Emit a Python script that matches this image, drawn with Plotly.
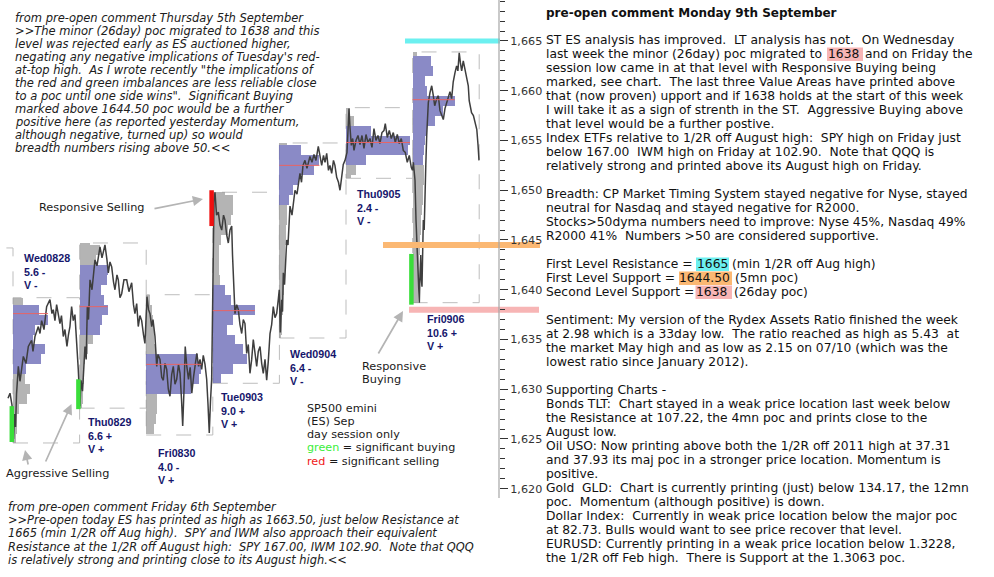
import plotly.graph_objects as go

W, H = 994, 577

# ---------------- data ----------------
days = ["Wed0828", "Thu0829", "Fri0830", "Tue0903", "Wed0904", "Thu0905", "Fri0906"]
range_tags = ["5.6 -", "6.6 +", "4.0 -", "9.0 +", "6.4 -", "2.4 -", "10.6 +"]
volume_tags = ["V -", "V +", "V +", "V +", "V -", "V -", "V +"]
day_high = [1639.2, 1644.7, 1639.5, 1649.8, 1654.75, 1658.3, 1663.9]
day_low = [1624.6, 1628.1, 1625.4, 1630.6, 1635.15, 1651.2, 1638.7]
poc_price = [1637.6, 1638.3, 1632.5, 1637.9, 1652.5, 1654.8, 1659.1]
va_high = [1638, 1642, 1633, 1640, 1654, 1656, 1663]
va_low = [1632, 1636, 1630, 1631, 1649, 1653, 1653]
profile_top = [1639, 1645, 1639, 1650, 1655, 1658, 1664]

vol_wed0828 = [10, 26, 35, 22, 20, 32, 28, 13, 12, 17, 14, 6, 4, 4, 3]
vol_thu0829 = [10, 20, 16, 28, 27, 21, 24, 28, 22, 20, 13, 8, 5, 4, 4, 3, 3, 2]
vol_fri0830 = [4, 6, 7, 8, 8, 10, 52, 55, 53, 45, 11, 11, 10, 8]
vol_tue0903 = [12, 20, 20, 18, 15, 8, 6, 6, 6, 7, 12, 18, 42, 20, 14, 22, 30, 34, 20, 8]
vol_wed0904 = [8, 22, 40, 35, 20, 14, 10, 8, 8, 7, 7, 6, 6, 6, 5, 5, 4, 4, 3, 3, 2]
vol_thu0905 = [4, 8, 25, 64, 62, 20, 10, 5]
vol_fri0906 = [4, 18, 20, 12, 14, 42, 30, 22, 14, 12, 11, 10, 11, 11, 10, 10, 9, 8, 8,
               7, 7, 6, 6, 6, 5, 5]

prev_day_high = 1644.2
prev_tail = [(0.925, 1629.1), (0.955, 1629.6), (0.985, 1628.4)]

px_wed0828 = [(0.008, 1625.0), (0.023, 1627.5), (0.038, 1626.2), (0.053, 1629.5), (0.08, 1632.3),
              (0.105, 1630.8), (0.155, 1633.3), (0.195, 1632.6), (0.23, 1634.3), (0.28, 1634.9),
              (0.30, 1633.8), (0.33, 1635.3), (0.38, 1636.3), (0.405, 1635.6), (0.43, 1636.9),
              (0.465, 1636.0), (0.505, 1638.3), (0.555, 1639.0), (0.585, 1637.6), (0.605, 1638.0),
              (0.63, 1636.9), (0.655, 1638.5), (0.705, 1636.6), (0.728, 1637.4), (0.755, 1635.3),
              (0.78, 1636.0), (0.81, 1634.3), (0.833, 1635.5), (0.855, 1636.3), (0.88, 1638.3),
              (0.905, 1636.9), (0.93, 1637.5), (0.955, 1634.9), (0.98, 1632.0)]
px_thu0829 = [(0.006, 1628.3), (0.021, 1630.9), (0.044, 1629.8), (0.066, 1633.0), (0.081, 1634.3),
              (0.099, 1633.0), (0.116, 1638.3), (0.134, 1637.0), (0.156, 1641.0), (0.186, 1640.0),
              (0.231, 1643.0), (0.261, 1642.4), (0.306, 1644.3), (0.336, 1643.2), (0.381, 1644.5),
              (0.411, 1643.0), (0.431, 1641.7), (0.456, 1642.8), (0.482, 1642.3), (0.509, 1640.8),
              (0.531, 1640.0), (0.561, 1641.5), (0.581, 1641.0), (0.606, 1639.2), (0.632, 1639.6),
              (0.666, 1641.0), (0.707, 1641.0), (0.741, 1639.8), (0.782, 1640.7), (0.809, 1638.5),
              (0.831, 1637.6), (0.857, 1638.6), (0.881, 1636.3), (0.906, 1637.4), (0.932, 1636.9),
              (0.959, 1635.5), (0.981, 1634.6), (0.996, 1636.8)]
px_fri0830 = [(0.012, 1639.3), (0.035, 1638.0), (0.057, 1637.6), (0.083, 1636.3), (0.102, 1637.0),
              (0.132, 1635.3), (0.158, 1632.3), (0.177, 1633.5), (0.207, 1633.0), (0.233, 1631.2),
              (0.257, 1630.9), (0.282, 1632.6), (0.308, 1632.0), (0.332, 1630.0), (0.357, 1629.3),
              (0.383, 1631.5), (0.407, 1632.3), (0.432, 1630.5), (0.458, 1631.0), (0.485, 1632.5),
              (0.508, 1631.6), (0.53, 1629.0), (0.548, 1626.3), (0.568, 1630.0), (0.586, 1634.3),
              (0.608, 1632.4), (0.635, 1631.0), (0.66, 1632.2), (0.685, 1629.6), (0.712, 1631.3),
              (0.735, 1632.6), (0.76, 1633.6), (0.787, 1632.3), (0.808, 1633.0), (0.833, 1632.0),
              (0.857, 1633.4), (0.883, 1632.5), (0.908, 1631.0), (0.928, 1628.5), (0.947, 1625.6),
              (0.965, 1628.8), (0.983, 1631.0)]
px_tue0903 = [(0.018, 1649.0), (0.033, 1649.8), (0.056, 1647.5), (0.083, 1647.8), (0.108, 1646.5),
              (0.134, 1646.0), (0.161, 1647.5), (0.183, 1647.0), (0.209, 1645.5), (0.233, 1644.7),
              (0.258, 1646.0), (0.284, 1646.4), (0.296, 1643.5), (0.309, 1641.0), (0.323, 1639.0),
              (0.333, 1637.6), (0.359, 1638.5), (0.383, 1638.0), (0.408, 1636.5), (0.434, 1635.6),
              (0.458, 1637.0), (0.483, 1636.6), (0.509, 1633.6), (0.533, 1634.5), (0.558, 1631.6),
              (0.584, 1633.0), (0.608, 1635.0), (0.634, 1633.5), (0.659, 1632.3), (0.683, 1633.8),
              (0.709, 1634.3), (0.734, 1632.6), (0.758, 1631.6), (0.784, 1633.0), (0.809, 1630.9),
              (0.833, 1632.8), (0.859, 1635.6), (0.884, 1636.5), (0.908, 1638.3), (0.934, 1637.2),
              (0.959, 1637.6), (0.983, 1639.0), (0.998, 1640.0)]
px_wed0904 = [(0.014, 1635.7), (0.024, 1637.5), (0.035, 1639.0), (0.047, 1637.8), (0.059, 1641.7),
              (0.077, 1640.5), (0.092, 1643.0), (0.11, 1645.0), (0.129, 1644.5), (0.159, 1648.4),
              (0.189, 1647.5), (0.212, 1649.2), (0.234, 1650.0), (0.264, 1649.6), (0.287, 1651.0),
              (0.309, 1651.7), (0.332, 1650.8), (0.354, 1652.5), (0.384, 1653.0), (0.414, 1652.2),
              (0.459, 1653.4), (0.489, 1652.8), (0.519, 1653.6), (0.549, 1653.0), (0.584, 1654.4),
              (0.609, 1653.4), (0.635, 1652.5), (0.662, 1653.5), (0.685, 1652.8), (0.71, 1653.7),
              (0.737, 1652.0), (0.759, 1652.5), (0.785, 1651.7), (0.812, 1653.0), (0.834, 1652.5),
              (0.86, 1651.3), (0.887, 1650.8), (0.91, 1650.0), (0.935, 1651.5), (0.959, 1652.6),
              (0.985, 1653.0), (0.998, 1653.5)]
px_thu0905 = [(0.015, 1653.8), (0.03, 1656.0), (0.045, 1658.2), (0.06, 1656.3), (0.08, 1654.5),
              (0.10, 1655.2), (0.12, 1654.0), (0.15, 1655.0), (0.18, 1655.5), (0.21, 1654.6),
              (0.24, 1655.5), (0.27, 1654.2), (0.30, 1655.6), (0.33, 1654.8), (0.36, 1655.2),
              (0.39, 1654.3), (0.42, 1656.2), (0.45, 1655.0), (0.48, 1655.5), (0.51, 1654.7),
              (0.54, 1655.8), (0.57, 1656.0), (0.59, 1656.7), (0.62, 1655.3), (0.65, 1656.0),
              (0.68, 1655.2), (0.71, 1655.8), (0.74, 1654.8), (0.77, 1655.6), (0.80, 1654.7),
              (0.83, 1655.2), (0.86, 1654.0), (0.89, 1653.8), (0.92, 1652.8), (0.95, 1653.5),
              (0.98, 1652.3), (0.998, 1652.0)]
px_fri0906 = [(0.011, 1652.8), (0.024, 1651.5), (0.036, 1651.0), (0.051, 1647.0), (0.063, 1645.0),
              (0.071, 1643.7), (0.086, 1639.7), (0.101, 1638.7), (0.111, 1641.5), (0.122, 1643.5),
              (0.132, 1641.0), (0.141, 1640.3), (0.152, 1644.0), (0.161, 1647.0), (0.174, 1646.0),
              (0.186, 1650.4), (0.198, 1652.5), (0.212, 1655.5), (0.224, 1657.0), (0.236, 1658.8),
              (0.261, 1659.8), (0.287, 1660.5), (0.311, 1659.5), (0.332, 1658.5), (0.362, 1659.2),
              (0.386, 1659.5), (0.411, 1658.0), (0.437, 1657.6), (0.461, 1657.1), (0.486, 1658.2),
              (0.511, 1658.7), (0.535, 1659.2), (0.561, 1659.9), (0.586, 1659.2), (0.61, 1660.9),
              (0.636, 1661.8), (0.661, 1662.5), (0.68, 1662.0), (0.70, 1663.8), (0.718, 1662.8),
              (0.737, 1662.0), (0.761, 1663.0), (0.786, 1662.2), (0.812, 1661.5), (0.836, 1660.5),
              (0.85, 1659.0), (0.863, 1658.5), (0.885, 1657.8), (0.913, 1657.5), (0.938, 1656.8),
              (0.964, 1656.1), (0.983, 1654.5), (0.997, 1653.0)]

signal_day = [0, 1, 3, 6]
signal_low = [1624.7, 1628.0, 1646.4, 1638.5]
signal_high = [1628.3, 1631.0, 1650.0, 1643.6]
signal_kind = ["buy", "buy", "sell", "buy"]

level_names = ["First Level Resistance", "First Level Support", "Second Level Support"]
level_values = [1665, 1644.5, 1638]

major_ticks = list(range(1620, 1666, 5))
minor_ticks = [v for v in range(1621, 1670) if v % 5]

# ---------------- geometry / styles ----------------
Y_TOP, Y_BOT = 1669.12, 1611.13
PX_DAY, X_ORIGIN = 66.6, 13.0
X_MIN, X_MAX = -X_ORIGIN / PX_DAY, (W - X_ORIGIN) / PX_DAY
AXIS_PX = 499
BLUE, GREY = "rgb(100,100,180)", "rgb(155,155,155)"
NAVY = "#16166c"
LEVEL_COLORS = ["#6cf0f0", "#fbb873", "#f7b5b5"]
LEVEL_SPAN_PX = [(405, 500), (383, 540), (409, 539)]
LEVEL_WIDTH = [5, 6, 6]
LABEL_XY = [(24, 258), (88, 422), (158, 453), (221, 397), (290, 354), (357, 194), (427, 319)]


def xd(px):
    return (px - X_ORIGIN) / PX_DAY


def P(px, py):
    return px / W, 1 - py / H


def esc(s):
    return (s.replace("&", "&amp;").replace("<", "&lt;").replace(">", "&gt;")
             .replace("  ", " \u00a0"))


fig = go.Figure()

# price line (all sessions joined)
px_days = [px_wed0828, px_thu0829, px_fri0830, px_tue0903, px_wed0904, px_thu0905, px_fri0906]
lx = [-1 + t for t, _ in prev_tail]
ly = [p for _, p in prev_tail]
for i, pts in enumerate(px_days):
    lx += [i + t for t, _ in pts]
    ly += [p for _, p in pts]
fig.add_trace(go.Scatter(x=lx, y=ly, mode="lines", line=dict(color="#3e3e3e", width=1.5),
                         hoverinfo="skip", showlegend=False))

# volume profiles
vols = [vol_wed0828, vol_thu0829, vol_fri0830, vol_tue0903, vol_wed0904, vol_thu0905, vol_fri0906]
for i, v in enumerate(vols):
    ys, hs, ws, cs = [], [], [], []
    for k, vol in enumerate(v):
        b = profile_top[i] - k
        lo, hi = max(b - 0.5, day_low[i]), min(b + 0.5, day_high[i])
        if hi <= lo:
            continue
        ys.append((lo + hi) / 2)
        hs.append(hi - lo)
        ws.append(vol / PX_DAY)
        cs.append(BLUE if va_low[i] <= b <= va_high[i] else GREY)
    fig.add_trace(go.Bar(orientation="h", y=ys, x=ws, base=[i] * len(ys), width=hs,
                         marker=dict(color=cs, line=dict(width=0)), opacity=0.75,
                         hoverinfo="skip", showlegend=False))
    # point of control
    fig.add_trace(go.Scatter(x=[i, i + max(v) / PX_DAY], y=[poc_price[i]] * 2, mode="lines",
                             line=dict(color="#e86464", width=1), hoverinfo="skip",
                             showlegend=False))

# support / resistance levels
for j, val in enumerate(level_values):
    a, b = LEVEL_SPAN_PX[j]
    fig.add_trace(go.Scatter(x=[xd(a), xd(b)], y=[val, val], mode="lines",
                             line=dict(color=LEVEL_COLORS[j], width=LEVEL_WIDTH[j]),
                             name=level_names[j], hoverinfo="skip", showlegend=False))

# significant buying / selling marks
for d, lo, hi, kind in zip(signal_day, signal_low, signal_high, signal_kind):
    xx = d - 1.2 / PX_DAY
    fig.add_trace(go.Scatter(x=[xx, xx], y=[lo, hi], mode="lines",
                             line=dict(color="#3ade3a" if kind == "buy" else "#f01010", width=4.5),
                             hoverinfo="skip", showlegend=False))

# day range boxes
shapes = []
box_line = dict(color="#bdbdbd", width=1, dash="longdash")
for i in range(len(days)):
    shapes.append(dict(type="rect", xref="x", yref="y", x0=i, x1=i + 1, y0=day_low[i],
                       y1=day_high[i], line=box_line, layer="below"))
fig.add_trace(go.Scatter(x=[-1, 0, 0], y=[prev_day_high, prev_day_high, day_high[0]],
                         mode="lines", line=box_line, hoverinfo="skip", showlegend=False))

# price axis line
shapes.append(dict(type="line", xref="paper", yref="y", x0=AXIS_PX / W, x1=AXIS_PX / W,
                   y0=1619.07, y1=Y_TOP, line=dict(color="#a6a6a6", width=1.2)))

# ---------------- texts ----------------
ann = []
FONT = "DejaVu Sans"
RSIZE = 12.3


def text(px, py, s, size=RSIZE, color="#111111", family=FONT):
    x, y = P(px, py)
    ann.append(dict(x=x, y=y, xref="paper", yref="paper", xanchor="left", yanchor="middle",
                    text=s, showarrow=False, borderpad=0, borderwidth=0,
                    font=dict(size=size, color=color, family=family)))


def arrow(tail, tip):
    x, y = P(*tip)
    ann.append(dict(x=x, y=y, xref="paper", yref="paper", ax=tail[0] - tip[0],
                    ay=tail[1] - tip[1], text="", showarrow=True, arrowhead=2,
                    arrowsize=1.2, arrowwidth=1.7, arrowcolor="#b4b4b4"))


# day labels
for i, (lx0, ly0) in enumerate(LABEL_XY):
    for k, s in enumerate([days[i], range_tags[i], volume_tags[i]]):
        text(lx0, ly0 + 13.6 * k, "<b>" + esc(s) + "</b>", size=10.7, color=NAVY,
             family="Liberation Sans")

left_lines = [
    "from pre-open comment Thursday 5th September",
    ">>The minor (26day) poc migrated to 1638 and this",
    "level was rejected early as ES auctioned higher,",
    "negating any negative implications of Tuesday's red-",
    "at-top high.  As I wrote recently \"the implications of",
    "the red and green imbalances are less reliable close",
    "to a poc until one side wins\".  Significant Buying",
    "marked above 1644.50 poc would be a further",
    "positive here (as reported yesterday Momentum,",
    "although negative, turned up) so would",
    "breadth numbers rising above 50.<<",
]
for k, s in enumerate(left_lines):
    text(15, 18.3 + 12.97 * k, "<i>" + esc(s) + "</i>", size=11.5, color="#202020")

bottom_lines = [
    "from pre-open comment Friday 6th September",
    ">>Pre-open today ES has printed as high as 1663.50, just below Resistance at",
    "1665 (min 1/2R off Aug high).  SPY and IWM also approach their equivalent",
    "Resistance at the 1/2R off August high:  SPY 167.00, IWM 102.90.  Note that QQQ",
    "is relatively strong and printing close to its August high.<<",
]
for k, s in enumerate(bottom_lines):
    text(8, 506.7 + 13.3 * k, "<i>" + esc(s) + "</i>", size=11.4, color="#202020")

legend_lines = [
    "SP500 emini", "(ES) Sep", "day session only",
    "<span style='color:#3aee3a'>green</span> = significant buying",
    "<span style='color:#f01818'>red</span> = significant selling",
]
for k, s in enumerate(legend_lines):
    text(307, 408.3 + 13.2 * k, s, size=11.2, color="#1a1a1a")

text(39, 207, "Responsive Selling", size=11.3, color="#1a1a1a")
text(6, 473.5, "Aggressive Selling", size=11.3, color="#1a1a1a")
text(362, 366.7, "Responsive", size=11.3, color="#1a1a1a")
text(362, 379.5, "Buying", size=11.3, color="#1a1a1a")
arrow((153, 209), (203, 199))
arrow((28.5, 466), (25, 450))
arrow((45, 463), (71.5, 404))
arrow((377.5, 355), (403, 311))

# right commentary panel
text(546, 13, "<b>pre-open comment Monday 9th September</b>", size=12, color="#111111")
right_lines = [
    "ST ES analysis has improved.  LT analysis has not.  On Wednesday",
    None,
    "session low came in at that level with Responsive Buying being",
    "marked, see chart.  The last three Value Areas have printed above",
    "that (now proven) upport and if 1638 holds at the start of this week",
    "I will take it as a sign of strenth in the ST.  Aggressive Buying above",
    "that level would be a further postive.",
    "Index ETFs relative to 1/2R off August high:  SPY high on Friday just",
    "below 167.00  IWM high on Friday at 102.90.  Note that QQQ is",
    "relatively strong and printed above its August high on Friday.",
    "",
    "Breadth: CP Market Timing System stayed negative for Nyse, stayed",
    "neutral for Nasdaq and stayed negative for R2000.",
    "Stocks>50dyma numbers need to improve: Nyse 45%, Nasdaq 49%",
    "R2000 41%  Numbers >50 are considered supportive.",
    "",
    None, None, None,
    "",
    "Sentiment: My version of the Rydex Assets Ratio finished the week",
    "at 2.98 which is a 33day low.  The ratio reached as high as 5.43  at",
    "the market May high and as low as 2.15 on 07/10 (which was the",
    "lowest ratio since January 2012).",
    "",
    "Supporting Charts -",
    "Bonds TLT:  Chart stayed in a weak price location last week below",
    "the Resistance at 107.22, the 4mn poc and prints close to the",
    "August low.",
    "Oil USO: Now printing above both the 1/2R off 2011 high at 37.31",
    "and 37.93 its maj poc in a stronger price location. Momentum is",
    "positive.",
    "Gold  GLD:  Chart is currently printing (just) below 134.17, the 12mn",
    "poc.  Momentum (although positive) is down.",
    "Dollar Index:  Currently in weak price location below the major poc",
    "at 82.73. Bulls would want to see price recover that level.",
    "EURUSD: Currently printing in a weak price location below 1.3228,",
    "the 1/2R off Feb high.  There is Support at the 1.3063 poc.",
]
RX, RY0, RDY = 546, 40, 14
for k, s in enumerate(right_lines):
    if s:
        text(RX, RY0 + RDY * k, esc(s))

# lines with highlighted numbers: (line, prefix, number, suffix, colour, box px, number px, suffix px)
highlight_rows = [
    (1, "last week the minor (26day) poc migrated to", "1638", "and on Friday the",
     LEVEL_COLORS[2], (827, 863), 828, 865),
    (16, "First Level Resistance =", "1665", "(min 1/2R off Aug high)",
     LEVEL_COLORS[0], (696, 729), 696.5, 732),
    (17, "First Level Support =", "1644.50", "(5mn poc)",
     LEVEL_COLORS[1], (679, 732), 679, 734.5),
    (18, "Second Level Support =", "1638", "(26day poc)",
     LEVEL_COLORS[2], (695.5, 732), 696, 734),
]
for row, pre, num, suf, col, (b0, b1), nx, sx in highlight_rows:
    yc = RY0 + RDY * row
    shapes.append(dict(type="rect", xref="paper", yref="paper", x0=b0 / W, x1=b1 / W,
                       y0=1 - (yc + 7) / H, y1=1 - (yc - 6.5) / H, fillcolor=col,
                       line=dict(width=0), layer="below"))
    text(RX, yc, esc(pre))
    text(nx, yc, esc(num))
    text(sx, yc, esc(suf))

fig.update_layout(
    width=W, height=H, autosize=False,
    margin=dict(l=0, r=0, t=0, b=0, pad=0),
    paper_bgcolor="white", plot_bgcolor="white",
    barmode="overlay", bargap=0, showlegend=False,
    xaxis=dict(range=[X_MIN, X_MAX], visible=False, fixedrange=True),
    yaxis=dict(range=[Y_BOT, Y_TOP], anchor="free", position=AXIS_PX / W, side="right",
               showgrid=False, zeroline=False, showline=False, fixedrange=True,
               ticks="outside", ticklen=8, tickwidth=1, tickcolor="#333333",
               tickvals=major_ticks, tickformat=",",
               tickfont=dict(family=FONT, size=11.2, color="#333333"),
               minor=dict(tickvals=minor_ticks, ticks="outside", ticklen=5, tickwidth=1,
                          tickcolor="#333333", showgrid=False)),
    shapes=shapes, annotations=ann,
)

fig.write_html("out.html", config={"displayModeBar": False})
